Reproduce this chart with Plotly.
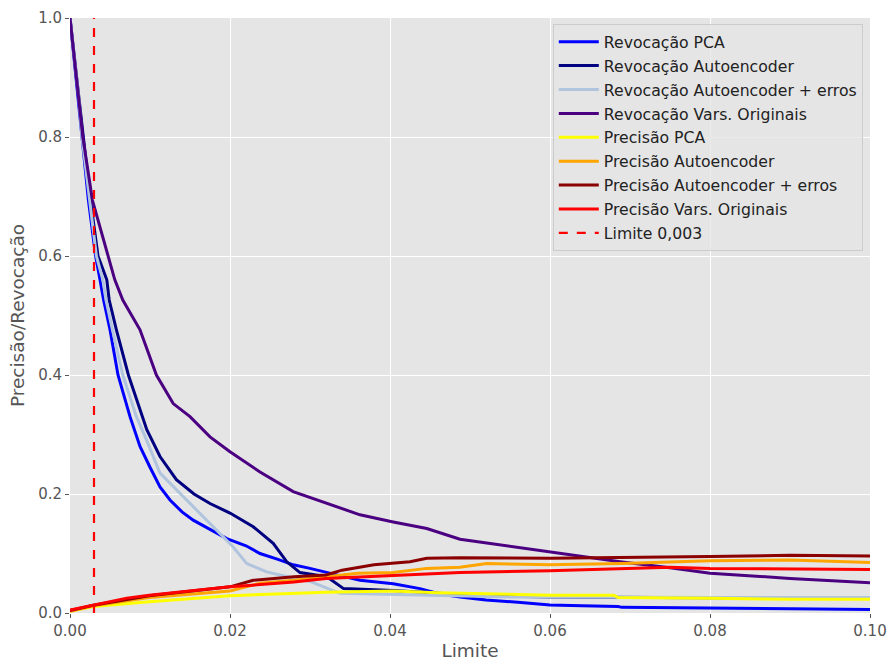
import plotly.graph_objects as go

# ---- data ----
rec_pca_x = [0, 0.0011, 0.0015, 0.0023, 0.0032, 0.00375, 0.0042, 0.005, 0.006, 0.0075, 0.00875, 0.01,
             0.01125, 0.0125, 0.014, 0.0154, 0.0175, 0.0196, 0.022, 0.02375, 0.026, 0.0279, 0.03, 0.032,
             0.034, 0.03625, 0.0385, 0.0404, 0.04375, 0.04625, 0.04875, 0.052, 0.056, 0.06, 0.064,
             0.0685, 0.069, 0.075, 0.08, 0.09, 0.1]
rec_pca_y = [1.0, 0.862, 0.80, 0.694, 0.60, 0.56, 0.526, 0.476, 0.40, 0.33, 0.28, 0.245,
             0.212, 0.19, 0.17, 0.156, 0.14, 0.125, 0.113, 0.10, 0.09, 0.081, 0.075, 0.068,
             0.062, 0.055, 0.052, 0.049, 0.041, 0.032, 0.027, 0.022, 0.018, 0.0134, 0.012,
             0.011, 0.0095, 0.009, 0.009, 0.007, 0.006]

rec_ae_x = [0, 0.0011, 0.0016, 0.0025, 0.0035, 0.0046, 0.0049, 0.0058, 0.0073, 0.009, 0.0096, 0.01125,
            0.0133, 0.0155, 0.0175, 0.02, 0.0229, 0.0254, 0.0271, 0.02875, 0.0321, 0.0342, 0.0404,
            0.04875, 0.055, 0.06, 0.07, 0.08, 0.09, 0.1]
rec_ae_y = [1.0, 0.87, 0.80, 0.70, 0.60, 0.56, 0.526, 0.476, 0.40, 0.33, 0.308, 0.263,
            0.224, 0.20, 0.184, 0.168, 0.145, 0.117, 0.086, 0.068, 0.061, 0.041, 0.038,
            0.031, 0.028, 0.027, 0.026, 0.026, 0.025, 0.025]

rec_aee_x = [0, 0.0011, 0.0015, 0.0024, 0.0033, 0.0041, 0.0045, 0.0053, 0.0066, 0.0083, 0.0094, 0.01125,
             0.0142, 0.0167, 0.01875, 0.0204, 0.0221, 0.0246, 0.02625, 0.03, 0.03375, 0.0404, 0.04875,
             0.055, 0.06, 0.07, 0.08, 0.09, 0.1]
rec_aee_y = [1.0, 0.865, 0.80, 0.70, 0.60, 0.56, 0.526, 0.476, 0.40, 0.33, 0.296, 0.235,
             0.195, 0.162, 0.134, 0.111, 0.083, 0.069, 0.064, 0.053, 0.033, 0.031, 0.028,
             0.027, 0.027, 0.026, 0.026, 0.026, 0.026]

rec_orig_x = [0, 0.0016, 0.0028, 0.0047, 0.0056, 0.0066, 0.00875, 0.0108, 0.0129, 0.015, 0.0175, 0.02,
              0.02375, 0.0279, 0.0321, 0.03625, 0.0404, 0.0446, 0.04875, 0.055, 0.06, 0.065, 0.06875,
              0.075, 0.08, 0.09, 0.1]
rec_orig_y = [1.0, 0.80, 0.694, 0.60, 0.56, 0.526, 0.476, 0.40, 0.352, 0.33, 0.296, 0.271,
              0.237, 0.204, 0.184, 0.165, 0.153, 0.142, 0.124, 0.112, 0.103, 0.094, 0.086,
              0.076, 0.067, 0.058, 0.051]

prec_pca_x = [0, 0.0029, 0.0099, 0.02, 0.032, 0.0404, 0.046, 0.05, 0.06, 0.068, 0.0685, 0.08, 0.09, 0.1]
prec_pca_y = [0.003, 0.011, 0.019, 0.029, 0.035, 0.037, 0.034, 0.033, 0.030, 0.030, 0.026, 0.025, 0.023, 0.023]

prec_ae_x = [0, 0.0029, 0.0099, 0.02, 0.02375, 0.028, 0.032, 0.036, 0.0404, 0.0446, 0.04875, 0.0521,
             0.06, 0.069, 0.08, 0.09, 0.1]
prec_ae_y = [0.003, 0.012, 0.026, 0.037, 0.050, 0.055, 0.061, 0.067, 0.068, 0.075, 0.077, 0.083,
             0.081, 0.083, 0.088, 0.089, 0.085]

prec_aee_x = [0, 0.0029, 0.0099, 0.02, 0.0229, 0.028, 0.032, 0.034, 0.038, 0.0425, 0.0446, 0.04875,
              0.06, 0.07, 0.08, 0.09, 0.1]
prec_aee_y = [0.004, 0.013, 0.029, 0.044, 0.055, 0.061, 0.064, 0.072, 0.081, 0.086, 0.092, 0.093,
              0.092, 0.093, 0.095, 0.097, 0.096]

prec_orig_x = [0, 0.0029, 0.0071, 0.0099, 0.02, 0.028, 0.032, 0.0404, 0.04875, 0.06, 0.069, 0.075,
               0.08, 0.09, 0.1]
prec_orig_y = [0.005, 0.013, 0.025, 0.030, 0.044, 0.052, 0.058, 0.063, 0.068, 0.071, 0.075, 0.077,
               0.075, 0.074, 0.073]

limite = 0.003

series = [
    ("Revocação PCA", rec_pca_x, rec_pca_y, "#0000FF"),
    ("Revocação Autoencoder", rec_ae_x, rec_ae_y, "#000080"),
    ("Revocação Autoencoder + erros", rec_aee_x, rec_aee_y, "#B0C4DE"),
    ("Revocação Vars. Originais", rec_orig_x, rec_orig_y, "#4B0082"),
    ("Precisão PCA", prec_pca_x, prec_pca_y, "#FFFF00"),
    ("Precisão Autoencoder", prec_ae_x, prec_ae_y, "#FFA500"),
    ("Precisão Autoencoder + erros", prec_aee_x, prec_aee_y, "#8B0000"),
    ("Precisão Vars. Originais", prec_orig_x, prec_orig_y, "#FF0000"),
]

fig = go.Figure()
for i, (name, xs, ys, col) in enumerate(series):
    fig.add_trace(go.Scatter(x=xs, y=ys, mode="lines", name=name, legendgroup=f"g{i}",
                             line=dict(color=col, width=3)))

fig.add_trace(go.Scatter(x=[limite, limite], y=[0, 1], mode="lines", name="Limite 0,003",
                         legendgroup="lim",
                         line=dict(color="#FF0000", width=2.2, dash="dash")))

font_family = "DejaVu Sans"
fig.update_layout(
    width=890, height=661,
    margin=dict(l=70, r=20, t=18, b=48, autoexpand=False),
    paper_bgcolor="white",
    plot_bgcolor="#E5E5E5",
    font=dict(family=font_family, color="#555555", size=15),
    showlegend=True,
    legend=dict(
        x=0.991, y=0.99, xanchor="right", yanchor="top",
        bgcolor="rgba(229,229,229,0.8)", bordercolor="#CCCCCC", borderwidth=1,
        font=dict(family=font_family, size=15.7, color="#222222"),
        itemwidth=40, tracegroupgap=0.5,
    ),
)
fig.update_xaxes(
    range=[0, 0.1], tickvals=[0, 0.02, 0.04, 0.06, 0.08, 0.1], tickformat=".2f",
    showgrid=True, gridcolor="white", gridwidth=1, zeroline=False,
    ticks="outside", ticklen=4, tickcolor="#555555", automargin=False,
    title=dict(text="Limite", font=dict(size=18.5, color="#555555"), standoff=6),
    showline=False,
)
fig.update_yaxes(
    range=[0, 1], tickvals=[0, 0.2, 0.4, 0.6, 0.8, 1.0], tickformat=".1f",
    showgrid=True, gridcolor="white", gridwidth=1, zeroline=False,
    ticks="outside", ticklen=4, tickcolor="#555555", automargin=False,
    title=dict(text="Precisão/Revocação", font=dict(size=18.5, color="#555555"), standoff=8),
    showline=False,
)

fig.write_html("out.html")
